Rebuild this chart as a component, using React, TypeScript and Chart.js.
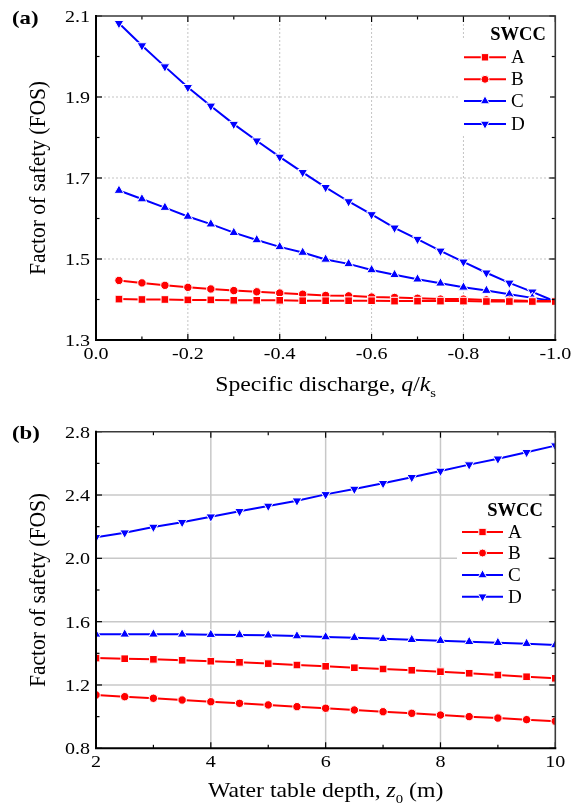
import React, { useEffect, useRef } from 'react';
import { Chart, registerables } from 'chart.js';

Chart.register(...registerables);

const FONT = '"Liberation Serif", "Times New Roman", Times, serif';
const RED = '#ff0000';
const BLUE = '#0000ff';

// ---------- Panel (a): specific discharge ----------
const dischargeX = [-0.05, -0.1, -0.15, -0.2, -0.25, -0.3, -0.35, -0.4, -0.45, -0.5, -0.55, -0.6, -0.65, -0.7, -0.75, -0.8, -0.85, -0.9, -0.95, -1.0];
const fosA_q = [1.401, 1.400, 1.400, 1.399, 1.399, 1.398, 1.398, 1.398, 1.397, 1.397, 1.397, 1.397, 1.396, 1.396, 1.396, 1.396, 1.395, 1.395, 1.395, 1.395];
const fosB_q = [1.447, 1.441, 1.435, 1.430, 1.426, 1.422, 1.419, 1.416, 1.413, 1.410, 1.409, 1.406, 1.405, 1.403, 1.401, 1.401, 1.399, 1.398, 1.396, 1.396];
const fosC_q = [1.669, 1.648, 1.627, 1.605, 1.586, 1.565, 1.547, 1.530, 1.516, 1.499, 1.488, 1.473, 1.461, 1.450, 1.440, 1.430, 1.422, 1.413, 1.404, 1.396];
const fosD_q = [2.082, 2.027, 1.975, 1.924, 1.878, 1.833, 1.792, 1.752, 1.714, 1.677, 1.642, 1.610, 1.577, 1.549, 1.520, 1.493, 1.466, 1.441, 1.419, 1.395];
const xTicksA = [0, -0.2, -0.4, -0.6, -0.8, -1.0];
const xMinorA = [-0.1, -0.3, -0.5, -0.7, -0.9];
const yTicksA = [1.3, 1.5, 1.7, 1.9, 2.1];
const yMinorA = [1.4, 1.6, 1.8, 2.0];

// ---------- Panel (b): water table depth ----------
const depthX = [2, 2.5, 3, 3.5, 4, 4.5, 5, 5.5, 6, 6.5, 7, 7.5, 8, 8.5, 9, 9.5, 10];
const fosA_z = [1.370, 1.366, 1.362, 1.356, 1.350, 1.343, 1.335, 1.326, 1.318, 1.309, 1.301, 1.293, 1.284, 1.274, 1.263, 1.252, 1.242];
const fosB_z = [1.137, 1.126, 1.116, 1.105, 1.094, 1.084, 1.074, 1.063, 1.053, 1.042, 1.031, 1.021, 1.010, 1.000, 0.991, 0.981, 0.971];
const fosC_z = [1.520, 1.520, 1.520, 1.520, 1.518, 1.516, 1.514, 1.509, 1.503, 1.499, 1.492, 1.486, 1.480, 1.473, 1.467, 1.461, 1.453];
const fosD_z = [2.133, 2.162, 2.198, 2.228, 2.263, 2.297, 2.331, 2.364, 2.404, 2.438, 2.474, 2.512, 2.552, 2.592, 2.629, 2.670, 2.712];
const xTicksB = [2, 4, 6, 8, 10];
const xMinorB = [3, 5, 7, 9];
const yTicksB = [0.8, 1.2, 1.6, 2.0, 2.4, 2.8];
const yMinorB = [1.0, 1.4, 1.8, 2.2, 2.6];

const seriesNames = ['A', 'B', 'C', 'D'];
const seriesColors = [RED, RED, BLUE, BLUE];
const seriesStyles = ['rect', 'circle', 'triUp', 'triDown'];
const legendTitle = 'SWCC';
const yTitle = 'Factor of safety (FOS)';

type Seg = { text: string; italic?: boolean; sub?: boolean };

function drawText(ctx: CanvasRenderingContext2D, text: string, x: number, y: number, size: number, o: any = {}) {
  ctx.save();
  ctx.font = `${o.italic ? 'italic ' : ''}${o.bold ? 'bold ' : ''}${size}px ${FONT}`;
  ctx.fillStyle = o.color || '#000';
  ctx.textAlign = o.align || 'left';
  ctx.textBaseline = o.baseline || 'alphabetic';
  ctx.translate(x, y);
  if (o.rotate) ctx.rotate(o.rotate);
  ctx.scale(o.sx || 1, o.sy || 1);
  ctx.fillText(text, 0, 0);
  ctx.restore();
}

function drawTitle(ctx: CanvasRenderingContext2D, segs: Seg[], cx: number, baseline: number, size: number, sx: number) {
  const widths: number[] = [];
  let total = 0;
  segs.forEach((s) => {
    const fs = s.sub ? size * 0.62 : size;
    ctx.font = `${s.italic ? 'italic ' : ''}${fs}px ${FONT}`;
    const w = ctx.measureText(s.text).width * sx;
    widths.push(w);
    total += w;
  });
  let x = cx - total / 2;
  segs.forEach((s, i) => {
    const fs = s.sub ? size * 0.62 : size;
    drawText(ctx, s.text, x, baseline + (s.sub ? size * 0.3 : 0), fs, { italic: s.italic, sx });
    x += widths[i];
  });
}

function drawMarker(ctx: CanvasRenderingContext2D, style: string, x: number, y: number, color: string) {
  ctx.save();
  ctx.fillStyle = color;
  ctx.strokeStyle = '#fff';
  ctx.lineWidth = 1;
  ctx.beginPath();
  if (style === 'rect') ctx.rect(x - 3.7, y - 3.7, 7.4, 7.4);
  else if (style === 'circle') ctx.arc(x, y, 4, 0, Math.PI * 2);
  else if (style === 'triUp') {
    ctx.moveTo(x, y - 5.2); ctx.lineTo(x + 4.6, y + 2.8); ctx.lineTo(x - 4.6, y + 2.8); ctx.closePath();
  } else {
    ctx.moveTo(x, y + 5.2); ctx.lineTo(x + 4.6, y - 2.8); ctx.lineTo(x - 4.6, y - 2.8); ctx.closePath();
  }
  ctx.fill();
  ctx.stroke();
  ctx.restore();
}

type PanelCfg = {
  height: number;
  padTop: number;
  xAxisH: number;
  xMin: number; xMax: number; reverse: boolean;
  yMin: number; yMax: number;
  xVals: number[];
  series: number[][];
  xTicks: number[]; xMinor: number[]; xFmt: (v: number) => string;
  yTicks: number[]; yMinor: number[]; yFmt: (v: number) => string;
  gridDash: number[]; gridColor: string; gridWidth: number;
  panelLabel: string; panelY: number;
  xTitle: Seg[]; xTitleBaseline: number;
  legend: { rect: number[]; titleX: number; titleY: number; lineX0: number; lineX1: number; labelX: number; ys: number[] };
};

const panelA: PanelCfg = {
  height: 400,
  padTop: 16,
  xAxisH: 60,
  xMin: -1, xMax: 0, reverse: true,
  yMin: 1.3, yMax: 2.1,
  xVals: dischargeX,
  series: [fosA_q, fosB_q, fosC_q, fosD_q],
  xTicks: xTicksA, xMinor: xMinorA, xFmt: (v) => (v === 0 ? '0.0' : v.toFixed(1)),
  yTicks: yTicksA, yMinor: yMinorA, yFmt: (v) => v.toFixed(1),
  gridDash: [2, 2], gridColor: '#c4c4c4', gridWidth: 1,
  panelLabel: '(a)', panelY: 19,
  xTitle: [
    { text: 'Specific discharge, ' },
    { text: 'q', italic: true },
    { text: '/' },
    { text: 'k', italic: true },
    { text: 's', sub: true },
  ],
  xTitleBaseline: 391,
  legend: { rect: [458, 40, 92, 96], titleX: 518, titleY: 35, lineX0: 464, lineX1: 506, labelX: 511, ys: [57.3, 79.3, 101, 124] },
};

const panelB: PanelCfg = {
  height: 406,
  padTop: 31.7,
  xAxisH: 57.7,
  xMin: 2, xMax: 10, reverse: false,
  yMin: 0.8, yMax: 2.8,
  xVals: depthX,
  series: [fosA_z, fosB_z, fosC_z, fosD_z],
  xTicks: xTicksB, xMinor: xMinorB, xFmt: (v) => String(v),
  yTicks: yTicksB, yMinor: yMinorB, yFmt: (v) => v.toFixed(1),
  gridDash: [], gridColor: '#c8c8c8', gridWidth: 1.5,
  panelLabel: '(b)', panelY: 34,
  xTitle: [
    { text: 'Water table depth, ' },
    { text: 'z', italic: true },
    { text: '0', sub: true },
    { text: ' (m)' },
  ],
  xTitleBaseline: 397,
  legend: { rect: [457, 98, 91, 110], titleX: 515, titleY: 111, lineX0: 462, lineX1: 503, labelX: 508, ys: [132, 153, 175, 196.7] },
};

function makePlugin(cfg: PanelCfg) {
  return {
    id: 'panelDecor',
    beforeDatasetsDraw(chart: any) {
      const ctx: CanvasRenderingContext2D = chart.ctx;
      const { left, right, top, bottom } = chart.chartArea;
      const xs = chart.scales.x;
      const ys = chart.scales.y;
      ctx.save();
      ctx.strokeStyle = cfg.gridColor;
      ctx.lineWidth = cfg.gridWidth;
      ctx.setLineDash(cfg.gridDash);
      cfg.xTicks.forEach((v) => {
        if (v === cfg.xMin || v === cfg.xMax) return;
        const px = xs.getPixelForValue(v);
        ctx.beginPath(); ctx.moveTo(px, top); ctx.lineTo(px, bottom); ctx.stroke();
      });
      cfg.yTicks.forEach((v) => {
        if (v === cfg.yMin || v === cfg.yMax) return;
        const py = ys.getPixelForValue(v);
        ctx.beginPath(); ctx.moveTo(left, py); ctx.lineTo(right, py); ctx.stroke();
      });
      ctx.restore();
    },
    afterDatasetsDraw(chart: any) {
      const ctx: CanvasRenderingContext2D = chart.ctx;
      const { left, right, top, bottom } = chart.chartArea;
      const xs = chart.scales.x;
      const ys = chart.scales.y;
      ctx.save();
      // ticks (inward)
      ctx.strokeStyle = '#000';
      ctx.lineWidth = 1.2;
      const tick = (x0: number, y0: number, x1: number, y1: number) => {
        ctx.beginPath(); ctx.moveTo(x0, y0); ctx.lineTo(x1, y1); ctx.stroke();
      };
      const major = 6, minor = 3.5;
      cfg.xTicks.forEach((v) => {
        const px = xs.getPixelForValue(v);
        tick(px, bottom, px, bottom - major);
        tick(px, top, px, top + major);
      });
      cfg.xMinor.forEach((v) => {
        const px = xs.getPixelForValue(v);
        tick(px, bottom, px, bottom - minor);
        tick(px, top, px, top + minor);
      });
      cfg.yTicks.forEach((v) => {
        const py = ys.getPixelForValue(v);
        tick(left, py, left + major, py);
        tick(right, py, right - major, py);
      });
      cfg.yMinor.forEach((v) => {
        const py = ys.getPixelForValue(v);
        tick(left, py, left + minor, py);
        tick(right, py, right - minor, py);
      });
      // frame
      ctx.strokeStyle = '#3a3a3a';
      ctx.lineWidth = 1.6;
      ctx.beginPath(); ctx.moveTo(left, top); ctx.lineTo(right, top); ctx.lineTo(right, bottom); ctx.stroke();
      ctx.strokeStyle = '#000';
      ctx.lineWidth = 2;
      ctx.beginPath(); ctx.moveTo(left, top - 1); ctx.lineTo(left, bottom); ctx.lineTo(right + 1, bottom); ctx.stroke();
      ctx.restore();

      // tick labels
      cfg.xTicks.forEach((v) => {
        drawText(ctx, cfg.xFmt(v), xs.getPixelForValue(v), bottom + 14.5, 17, { align: 'center', baseline: 'middle', sx: 1.18 });
      });
      cfg.yTicks.forEach((v) => {
        drawText(ctx, cfg.yFmt(v), left - 6, ys.getPixelForValue(v) + 1.5, 17, { align: 'right', baseline: 'middle', sx: 1.18 });
      });
      // axis titles
      drawTitle(ctx, cfg.xTitle, (left + right) / 2, cfg.xTitleBaseline, 21, 1.13);
      drawText(ctx, yTitle, 39, (top + bottom) / 2, 21.5, { align: 'center', baseline: 'middle', rotate: -Math.PI / 2, sy: 1.1 });
      // panel label
      drawText(ctx, cfg.panelLabel, 12, cfg.panelY, 19, { bold: true, baseline: 'middle', sx: 1.2 });

      // legend
      const L = cfg.legend;
      ctx.save();
      ctx.fillStyle = '#fff';
      ctx.fillRect(L.rect[0], L.rect[1], L.rect[2], L.rect[3]);
      ctx.restore();
      drawText(ctx, legendTitle, L.titleX, L.titleY, 18, { bold: true, align: 'center', baseline: 'middle', sx: 1.03 });
      seriesNames.forEach((name, i) => {
        const y = L.ys[i];
        ctx.save();
        ctx.strokeStyle = seriesColors[i];
        ctx.lineWidth = 2;
        ctx.beginPath(); ctx.moveTo(L.lineX0, y); ctx.lineTo(L.lineX1, y); ctx.stroke();
        ctx.restore();
        drawMarker(ctx, seriesStyles[i], (L.lineX0 + L.lineX1) / 2, y, seriesColors[i]);
        drawText(ctx, name, L.labelX, y + 1, 18.5, { baseline: 'middle', sx: 1.03 });
      });
    },
  };
}

const pointStyleMap: Record<string, any> = { rect: 'rect', circle: 'circle', triUp: 'triangle', triDown: 'triangle' };
const pointRadiusMap: Record<string, number> = { rect: 5.4, circle: 4.2, triUp: 5.6, triDown: 5.6 };

function Panel({ cfg }: { cfg: PanelCfg }) {
  const ref = useRef<HTMLCanvasElement>(null);
  useEffect(() => {
    const datasets = cfg.series.map((vals, i) => ({
      label: seriesNames[i],
      data: cfg.xVals.map((x, j) => ({ x, y: vals[j] })),
      borderColor: seriesColors[i],
      backgroundColor: seriesColors[i],
      borderWidth: 2,
      pointStyle: pointStyleMap[seriesStyles[i]],
      pointRotation: seriesStyles[i] === 'triDown' ? 180 : 0,
      pointRadius: pointRadiusMap[seriesStyles[i]],
      pointBorderColor: '#ffffff',
      pointBorderWidth: 1,
      pointBackgroundColor: seriesColors[i],
      tension: 0,
      fill: false,
    }));
    const chart = new Chart(ref.current as HTMLCanvasElement, {
      type: 'line',
      data: { datasets },
      options: {
        animation: false,
        responsive: false,
        maintainAspectRatio: false,
        devicePixelRatio: 1,
        layout: { padding: { top: cfg.padTop, right: 17.7, left: 0, bottom: 0 } },
        plugins: { legend: { display: false }, tooltip: { enabled: false } },
        scales: {
          x: {
            type: 'linear', min: cfg.xMin, max: cfg.xMax, reverse: cfg.reverse,
            ticks: { display: false }, grid: { display: false }, border: { display: false },
            afterFit: (s: any) => { s.height = cfg.xAxisH; },
          },
          y: {
            type: 'linear', min: cfg.yMin, max: cfg.yMax,
            ticks: { display: false }, grid: { display: false }, border: { display: false },
            afterFit: (s: any) => { s.width = 96; },
          },
        },
      } as any,
      plugins: [makePlugin(cfg)],
    });
    return () => chart.destroy();
  }, []);
  return <canvas ref={ref} width={573} height={cfg.height} style={{ display: 'block', width: 573, height: cfg.height }} />;
}

export default function App() {
  return (
    <div style={{ position: 'absolute', left: 0, top: 0, width: 573, height: 806, background: '#fff' }}>
      <Panel cfg={panelA} />
      <Panel cfg={panelB} />
    </div>
  );
}
